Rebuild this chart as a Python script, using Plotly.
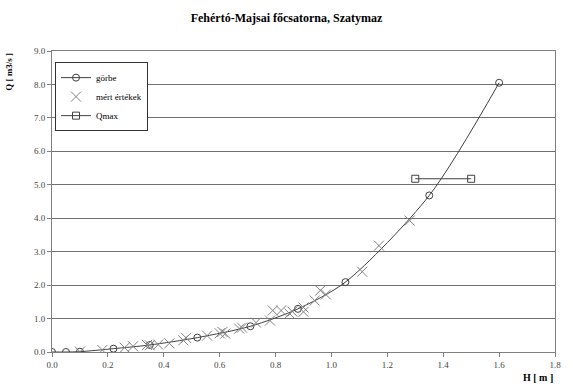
import plotly.graph_objects as go

# görbe (rating curve)
curve_H = [0.0, 0.05, 0.10, 0.22, 0.35, 0.52, 0.71, 0.88, 1.05, 1.35, 1.60]
curve_Q = [0.0, 0.0, 0.01, 0.10, 0.21, 0.43, 0.77, 1.29, 2.09, 4.68, 8.05]

# mért értékek (measured values)
meas_H = [0.10, 0.18, 0.26, 0.29, 0.34, 0.35, 0.38, 0.42, 0.47, 0.48,
          0.555, 0.60, 0.61, 0.62, 0.67, 0.68, 0.73, 0.78, 0.79, 0.82,
          0.85, 0.86, 0.90, 0.90, 0.94, 0.96, 0.98, 1.11, 1.17, 1.28]
meas_Q = [0.01, 0.06, 0.13, 0.17, 0.21, 0.20, 0.22, 0.26, 0.35, 0.42,
          0.49, 0.56, 0.60, 0.55, 0.70, 0.73, 0.88, 0.94, 1.24, 1.24,
          1.15, 1.21, 1.33, 1.20, 1.54, 1.84, 1.72, 2.40, 3.18, 3.93]

# Qmax
qmax_H = [1.30, 1.50]
qmax_Q = [5.18, 5.18]

x_ticks = [0.0, 0.2, 0.4, 0.6, 0.8, 1.0, 1.2, 1.4, 1.6, 1.8]
y_ticks = [0.0, 1.0, 2.0, 3.0, 4.0, 5.0, 6.0, 7.0, 8.0, 9.0]

serif = "Liberation Serif, DejaVu Serif, serif"

fig = go.Figure()
fig.add_trace(go.Scatter(
    x=curve_H, y=curve_Q, name="görbe", mode="lines+markers",
    line=dict(color="#404040", width=1, shape="spline", smoothing=0.8),
    marker=dict(symbol="circle-open", size=7, color="#404040", line=dict(width=1)),
))
fig.add_trace(go.Scatter(
    x=meas_H, y=meas_Q, name="mért értékek", mode="markers",
    marker=dict(symbol="x-thin-open", size=10, color="#808080", line=dict(width=1, color="#808080")),
))
fig.add_trace(go.Scatter(
    x=qmax_H, y=qmax_Q, name="Qmax", mode="lines+markers",
    line=dict(color="#404040", width=1),
    marker=dict(symbol="square-open", size=7, color="#404040", line=dict(width=1)),
))

fig.update_layout(
    width=573, height=390,
    margin=dict(l=52, r=15, t=51, b=38),
    paper_bgcolor="white", plot_bgcolor="white",
    font=dict(family=serif, size=9, color="#444444"),
    title=dict(text="<b>Fehértó-Majsai főcsatorna, Szatymaz</b>",
               x=0.5, xanchor="center", y=0.955, yanchor="middle",
               font=dict(family=serif, size=12, color="black")),
    showlegend=True,
    legend=dict(x=0.006, y=0.963, xanchor="left", yanchor="top",
                bgcolor="white", bordercolor="#333333", borderwidth=1,
                font=dict(family=serif, size=9, color="black"),
                itemwidth=30, tracegroupgap=0),
    xaxis=dict(range=[0, 1.8], tickvals=x_ticks, tickformat=".1f",
               showgrid=False, zeroline=False,
               showline=True, linecolor="#808080", linewidth=1, mirror=True,
               ticks="outside", ticklen=4, tickcolor="#808080"),
    yaxis=dict(range=[0, 9], tickvals=y_ticks, tickformat=".1f",
               showgrid=True, gridcolor="#707070", gridwidth=1,
               zeroline=False,
               showline=True, linecolor="#808080", linewidth=1, mirror=True,
               ticks="outside", ticklen=4, tickcolor="#808080"),
    annotations=[
        dict(text="<b>H [ m ]</b>", xref="paper", yref="paper",
             x=1.0, y=-0.06, xanchor="right", yanchor="top", showarrow=False,
             font=dict(family=serif, size=10, color="black")),
        dict(text="<b>Q [ m3/s ]</b>", xref="paper", yref="paper",
             x=-0.1, y=1.0, xanchor="left", yanchor="top", showarrow=False,
             textangle=-90,
             font=dict(family=serif, size=9, color="black")),
    ],
)

fig.write_html("out.html", config={"displayModeBar": False},
               post_script="document.body.style.margin='0';document.body.style.padding='0';")
